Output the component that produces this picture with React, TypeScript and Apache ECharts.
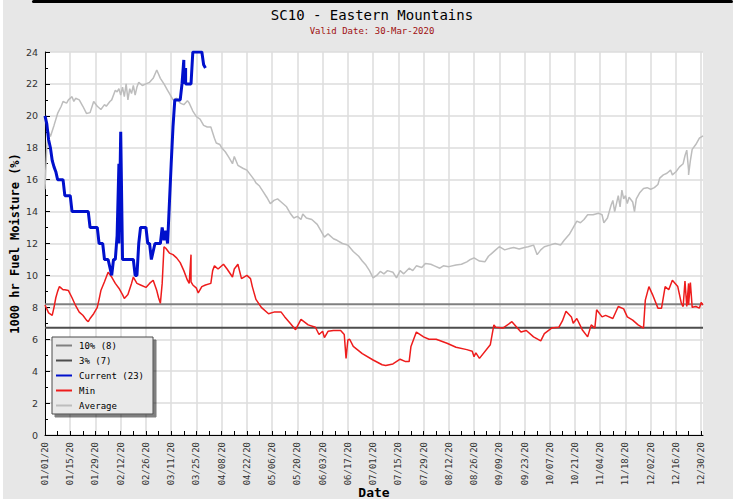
import React, { useEffect, useRef } from "react";
import * as echarts from "echarts";

// ---- data (day index from 01/01/2020, value in %) ----
const titleText = "SC10 - Eastern Mountains";
const subtitleText = "Valid Date: 30-Mar-2020";
const yAxisName = "1000 hr Fuel Moisture (%)";
const xAxisName = "Date";

const legendNames = ["10% (8)", "3% (7)", "Current (23)", "Min", "Average"];

const threshold10 = 8.2;
const threshold3 = 6.72;

const currentPts: [number, number][] = [
  [0, 20], [1, 19.5], [2, 18.5], [3, 18], [4, 17.2], [5, 16.8], [6, 16.5], [7, 16], [10, 16], [11, 15],
  [14, 15], [15, 14], [24, 14], [25, 13], [29, 13], [30, 12], [32, 12], [33, 11], [35, 11], [36, 10.5],
  [37, 10], [38, 11], [39, 11], [40, 12.5], [41, 17], [41, 12], [42, 19], [43, 11], [49, 11], [50, 10],
  [51, 10], [52, 12], [53, 13], [56, 13], [57, 12], [58, 12], [59, 11], [60, 11.5], [61, 12], [64, 12],
  [65, 13], [66, 12.2], [67, 12.8], [68, 12], [69, 14.5], [70, 17], [71, 19.3], [72, 21], [75, 21], [76, 22],
  [77, 23.5], [77, 22], [78, 23], [78, 22], [81, 22], [82, 24], [87, 24], [88, 23.2], [89, 23],
];

const minPts: [number, number][] = [
  [0, 8.15], [1, 7.9], [2, 7.65], [4, 7.5], [5, 8.0], [6, 8.6], [7, 9.0], [8, 9.3], [9, 9.2], [10, 9.1],
  [11, 9.1], [13, 9.05], [15, 8.6], [17, 8.1], [19, 7.7], [21, 7.5], [23, 7.2], [24, 7.1], [25, 7.3], [27, 7.6],
  [29, 8.0], [30, 8.5], [31, 9.05], [33, 9.6], [34, 9.9], [35, 10.2], [37, 9.9], [39, 9.5], [41, 9.2], [43, 8.8],
  [44, 8.56], [46, 8.8], [48, 9.5], [49, 9.9], [51, 9.5], [53, 9.4], [56, 9.25], [58, 9.5], [60, 9.7], [62, 9.05],
  [63, 8.6], [64, 8.25], [65, 9.5], [66, 11.8], [67, 11.7], [69, 11.4], [71, 11.3], [73, 11.1], [75, 10.8], [77, 10.3],
  [79, 9.7], [80, 9.5], [81, 11.3], [81, 9.6], [82, 9.4], [84, 9.2], [85, 8.9], [87, 9.3], [89, 9.4], [92, 9.5],
  [93, 10.3], [94, 10.6], [96, 10.4], [99, 10.7], [101, 10.4], [104, 9.9], [105, 10.4], [107, 10.7], [109, 9.8], [112, 10.0],
  [114, 9.8], [115, 9.3], [117, 8.5], [120, 8.0], [124, 7.6], [127, 7.7], [131, 7.7], [133, 7.4], [136, 7.0], [139, 6.6],
  [142, 7.25], [146, 6.9], [150, 6.75], [152, 6.3], [154, 6.5], [155, 6.1], [157, 6.5], [160, 6.55], [164, 6.55], [166, 6.3],
  [167, 4.8], [168, 5.95], [169, 6.0], [171, 5.55], [176, 5.1], [182, 4.7], [187, 4.4], [189, 4.35], [193, 4.45], [197, 4.75],
  [200, 4.6], [202, 4.6], [203, 5.55], [206, 6.45], [210, 6.15], [213, 6.0], [217, 6.0], [223, 5.75], [228, 5.5], [234, 5.35],
  [237, 5.25], [238, 4.9], [239, 5.15], [241, 4.8], [247, 5.65], [249, 6.9], [250, 6.75], [254, 6.7], [259, 7.1], [264, 6.45],
  [267, 6.55], [271, 6.15], [275, 5.9], [277, 6.35], [281, 6.7], [285, 6.75], [287, 7.15], [289, 7.75], [292, 7.4], [293, 7.0],
  [295, 7.3], [298, 6.6], [301, 6.15], [303, 6.9], [305, 6.7], [306, 7.85], [309, 7.4], [311, 7.5], [315, 7.3], [318, 8.05],
  [321, 7.9], [323, 7.4], [326, 7.2], [329, 6.9], [332, 6.7], [333, 8.45], [335, 9.3], [337, 8.8], [340, 7.95], [342, 7.95],
  [344, 9.3], [346, 9.1], [348, 9.7], [351, 9.3], [353, 8.25], [354, 8.05], [355, 9.65], [356, 8.05], [357, 9.5], [357, 8.15],
  [358, 9.55], [359, 8.0], [361, 8.05], [363, 7.95], [364, 8.3], [365, 8.15],
];

const averagePts: [number, number][] = [
  [0, 15.4], [1, 18.1], [2, 19.0], [3, 18.7], [5, 19.4], [7, 20.15], [9, 20.6], [10, 20.9], [12, 20.8], [13, 21.0],
  [15, 21.2], [16, 20.9], [17, 21.1], [19, 21.0], [21, 20.6], [23, 20.15], [25, 20.2], [27, 20.9], [29, 20.6], [31, 20.4],
  [33, 20.7], [34, 20.6], [36, 20.9], [37, 21.0], [39, 21.6], [40, 21.5], [41, 21.7], [42, 21.3], [43, 21.8], [44, 21.2],
  [45, 22.0], [46, 21.0], [47, 21.7], [48, 21.4], [49, 21.9], [50, 21.3], [51, 21.8], [52, 22.1], [54, 21.9], [56, 22.0],
  [58, 22.1], [60, 22.35], [62, 22.87], [64, 22.35], [66, 22.0], [68, 21.6], [69, 21.4], [71, 21.0], [73, 21.1], [75, 20.8],
  [77, 20.7], [79, 20.95], [80, 20.8], [82, 20.3], [84, 19.95], [86, 19.8], [88, 19.4], [90, 19.3], [92, 19.3], [94, 18.6],
  [95, 18.3], [97, 18.2], [98, 18.0], [100, 17.75], [102, 17.4], [104, 17.0], [105, 17.45], [107, 16.9], [110, 16.7], [112, 16.6],
  [114, 16.3], [116, 16.0], [117, 15.8], [119, 15.6], [121, 15.25], [123, 14.9], [125, 14.5], [127, 14.7], [129, 14.8], [131, 14.6],
  [134, 14.3], [136, 13.9], [138, 13.6], [140, 13.7], [142, 13.5], [143, 13.85], [145, 13.6], [148, 13.5], [151, 13.2], [153, 12.8],
  [155, 12.4], [157, 12.6], [160, 12.3], [162, 12.2], [165, 12.0], [168, 11.9], [171, 11.5], [174, 11.2], [176, 10.9], [178, 10.65],
  [180, 10.3], [182, 9.85], [184, 10.0], [186, 10.25], [188, 10.1], [190, 10.3], [193, 10.2], [195, 9.85], [197, 10.3], [199, 10.1],
  [202, 10.45], [204, 10.3], [206, 10.6], [209, 10.5], [211, 10.75], [214, 10.7], [216, 10.6], [219, 10.45], [221, 10.6], [224, 10.55],
  [228, 10.65], [231, 10.7], [234, 10.85], [236, 11.0], [238, 11.1], [241, 10.9], [244, 10.85], [246, 11.2], [248, 11.4], [250, 11.6],
  [252, 11.8], [255, 11.6], [258, 11.7], [260, 11.75], [263, 11.65], [266, 11.75], [268, 11.8], [271, 11.9], [273, 11.3], [275, 11.6],
  [277, 11.8], [280, 11.9], [283, 12.0], [286, 11.9], [288, 12.2], [291, 12.6], [293, 13.0], [295, 13.4], [297, 13.3], [299, 13.5],
  [301, 13.8], [304, 13.8], [307, 13.9], [309, 13.8], [310, 13.3], [312, 13.6], [314, 14.4], [315, 14.7], [316, 14.0], [318, 15.0],
  [319, 14.3], [320, 15.35], [321, 14.8], [322, 15.0], [323, 14.5], [324, 14.9], [326, 14.6], [327, 14.0], [328, 14.8], [330, 15.2],
  [332, 15.45], [334, 15.5], [336, 15.4], [338, 15.5], [340, 15.7], [341, 16.1], [343, 16.3], [345, 16.4], [347, 16.6], [348, 16.3],
  [350, 16.5], [352, 16.8], [354, 17.0], [355, 17.5], [356, 17.85], [357, 16.6], [357, 16.3], [358, 17.2], [359, 17.9], [361, 18.2],
  [363, 18.6], [365, 18.75],
];

// categories: every day of 2020 as MM/DD/20
const dates: string[] = [];
{
  const start = Date.UTC(2020, 0, 1);
  for (let i = 0; i < 366; i++) {
    const d = new Date(start + i * 86400000);
    const mm = String(d.getUTCMonth() + 1).padStart(2, "0");
    const dd = String(d.getUTCDate()).padStart(2, "0");
    dates.push(`${mm}/${dd}/20`);
  }
}

const MONO = "'DejaVu Sans Mono', monospace";

export default function App() {
  const ref = useRef<HTMLDivElement>(null);
  useEffect(() => {
    if (!ref.current) return;
    const chart = echarts.init(ref.current, undefined, { renderer: "svg" });
    const lastIdx = dates.length - 1;
    const lineSeries = (name: string, data: [number, number][], color: string, width: number, z: number) => ({
      name,
      type: "line",
      data,
      showSymbol: false,
      symbol: "none",
      silent: true,
      z,
      lineStyle: { color, width },
      itemStyle: { color },
    });
    chart.setOption({
      animation: false,
      backgroundColor: "#e7e7e7",
      graphic: [
        { type: "rect", shape: { x: 0, y: 0, width: 3, height: 499 }, style: { fill: "#ffffff" } },
        { type: "rect", shape: { x: 32, y: 0, width: 701, height: 3, r: 1.5 }, style: { fill: "#000000" } },
        {
          type: "text",
          x: 372,
          y: 15,
          style: {
            text: titleText,
            font: `14px ${MONO}`,
            fill: "#000",
            textAlign: "center",
            textVerticalAlign: "middle",
            align: "center",
            verticalAlign: "middle",
          },
        },
        {
          type: "text",
          x: 372,
          y: 31,
          style: {
            text: subtitleText,
            font: `9px ${MONO}`,
            fill: "#a01010",
            textAlign: "center",
            textVerticalAlign: "middle",
            align: "center",
            verticalAlign: "middle",
          },
        },
      ],
      grid: {
        left: 45,
        right: 30,
        top: 52,
        bottom: 64,
        show: true,
        backgroundColor: "#ffffff",
        borderWidth: 0,
        containLabel: false,
        outerBoundsMode: "none",
      },
      legend: {
        data: legendNames,
        orient: "vertical",
        left: 52,
        top: 337,
        backgroundColor: "#e9e9e9",
        borderColor: "#4a4a4a",
        borderWidth: 1,
        padding: [3, 9, 3, 4],
        itemGap: 4,
        itemWidth: 16,
        itemHeight: 2,
        icon: "rect",
        selectedMode: false,
        shadowColor: "rgba(0,0,0,0.5)",
        shadowBlur: 1,
        shadowOffsetX: 3,
        shadowOffsetY: 3,
        textStyle: { fontFamily: MONO, fontSize: 9, color: "#000", lineHeight: 11, padding: [0, 0, 0, 2] },
      },
      xAxis: {
        type: "category",
        data: dates,
        boundaryGap: false,
        name: xAxisName,
        nameLocation: "middle",
        nameGap: 51,
        nameMoveOverlap: false,
        nameTextStyle: { fontFamily: MONO, fontWeight: "bold", fontSize: 13, color: "#000" },
        axisLine: { lineStyle: { color: "#000", width: 1 } },
        axisTick: {
          show: true,
          inside: true,
          length: 4,
          interval: (i: number) => i % 7 === 0,
          lineStyle: { color: "#000" },
        },
        axisLabel: {
          interval: (i: number) => i % 14 === 0,
          rotate: 90,
          fontFamily: MONO,
          fontSize: 9,
          color: "#333",
          margin: 7,
        },
        splitLine: {
          show: true,
          interval: (i: number) => i % 14 === 0,
          lineStyle: { color: "#dddddd", width: 1.5 },
        },
      },
      yAxis: {
        type: "value",
        min: 0,
        max: 24,
        interval: 2,
        name: yAxisName,
        nameLocation: "middle",
        nameGap: 24,
        nameMoveOverlap: false,
        nameRotate: 90,
        nameTextStyle: { fontFamily: MONO, fontWeight: "bold", fontSize: 12, color: "#000" },
        axisLine: { show: true, lineStyle: { color: "#000", width: 1 } },
        axisTick: { show: true, inside: true, length: 5, lineStyle: { color: "#000" } },
        minorTick: { show: true, splitNumber: 2, length: 3, lineStyle: { color: "#000" } },
        axisLabel: { fontFamily: "'DejaVu Sans', sans-serif", fontSize: 9.5, color: "#333", margin: 7 },
        splitLine: { show: true, lineStyle: { color: "#dddddd", width: 1.5 } },
      },
      series: [
        lineSeries(legendNames[0], [[0, threshold10], [lastIdx, threshold10]], "#808080", 2, 2),
        lineSeries(legendNames[1], [[0, threshold3], [lastIdx, threshold3]], "#4d4d4d", 2, 2),
        lineSeries(legendNames[4], averagePts, "#bdbdbd", 1.5, 3),
        lineSeries(legendNames[3], minPts, "#ee1c1c", 1.5, 4),
        lineSeries(legendNames[2], currentPts, "#0010cc", 3, 5),
      ],
    });
    return () => chart.dispose();
  }, []);
  return <div ref={ref} style={{ position: "absolute", left: 0, top: 0, width: 733, height: 499 }} />;
}
